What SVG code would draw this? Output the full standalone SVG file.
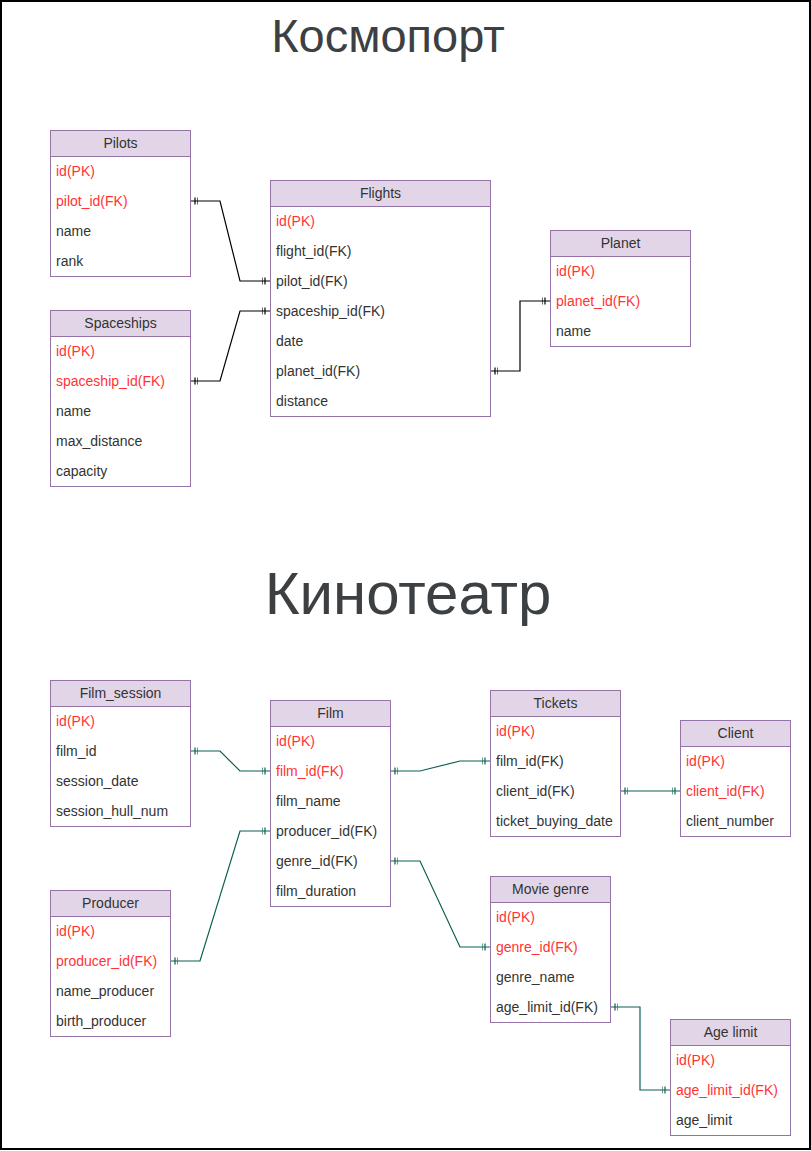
<svg xmlns="http://www.w3.org/2000/svg" width="811" height="1151" viewBox="0 0 811 1151">
<style>
.hd{fill:#e1d5e7;stroke:#9673a6;stroke-width:1}
.bd{fill:#ffffff;stroke:#9673a6;stroke-width:1}
text{font-family:"Liberation Sans",Arial,sans-serif;font-size:14px;fill:#333333}
.t{text-anchor:middle}
.r{fill:#ff3333}
.title{fill:#3c4043;text-anchor:middle}
.cb{fill:none;stroke:#000000;stroke-width:1.2;marker-start:url(#mb);marker-end:url(#mb)}
.ct{fill:none;stroke:#0b5f52;stroke-width:1.2;marker-start:url(#mt);marker-end:url(#mt)}
</style>
<defs>
<marker id="mb" markerUnits="userSpaceOnUse" viewBox="0 -5 10 10" markerWidth="10" markerHeight="10" refX="8" refY="0" orient="auto-start-reverse"><path d="M0,-3.5V3.5M3,-3.5V3.5" stroke="#000000" stroke-width="1.2" fill="none"/></marker>
<marker id="mt" markerUnits="userSpaceOnUse" viewBox="0 -5 10 10" markerWidth="10" markerHeight="10" refX="8" refY="0" orient="auto-start-reverse"><path d="M0,-3.5V3.5M3,-3.5V3.5" stroke="#0b5f52" stroke-width="1.2" fill="none"/></marker>
</defs>
<rect x="0" y="0" width="811" height="1151" fill="#ffffff"/>
<rect x="1" y="1" width="809" height="1148" fill="none" stroke="#000000" stroke-width="2"/>
<text class="title" x="388" y="52" style="font-size:47px">Космопорт</text>
<text class="title" x="408" y="614" style="font-size:60px">Кинотеатр</text>

<g id="connectors">
<path class="cb" d="M190,201H220L240,281H270"/>
<path class="cb" d="M190,381H220L240,311H270"/>
<path class="cb" d="M490,371H520V301H550"/>
<path class="ct" d="M190,751H220L240,771H270"/>
<path class="ct" d="M390,771H420L460,761H490"/>
<path class="ct" d="M620,791H680"/>
<path class="ct" d="M170,961H200L240,831H270"/>
<path class="ct" d="M390,861H420L460,947H490"/>
<path class="ct" d="M610,1007H640V1090H670"/>
</g>

<g id="pilots">
<rect class="bd" x="50.5" y="130.5" width="140" height="146"/>
<rect class="hd" x="50.5" y="130.5" width="140" height="26"/>
<text class="t" x="120.5" y="148">Pilots</text>
<text class="r" x="56" y="176">id(PK)</text>
<text class="r" x="56" y="206">pilot_id(FK)</text>
<text x="56" y="236">name</text>
<text x="56" y="266">rank</text>
</g>

<g id="spaceships">
<rect class="bd" x="50.5" y="310.5" width="140" height="176"/>
<rect class="hd" x="50.5" y="310.5" width="140" height="26"/>
<text class="t" x="120.5" y="328">Spaceships</text>
<text class="r" x="56" y="356">id(PK)</text>
<text class="r" x="56" y="386">spaceship_id(FK)</text>
<text x="56" y="416">name</text>
<text x="56" y="446">max_distance</text>
<text x="56" y="476">capacity</text>
</g>

<g id="flights">
<rect class="bd" x="270.5" y="180.5" width="220" height="236"/>
<rect class="hd" x="270.5" y="180.5" width="220" height="26"/>
<text class="t" x="380.5" y="198">Flights</text>
<text class="r" x="276" y="226">id(PK)</text>
<text x="276" y="256">flight_id(FK)</text>
<text x="276" y="286">pilot_id(FK)</text>
<text x="276" y="316">spaceship_id(FK)</text>
<text x="276" y="346">date</text>
<text x="276" y="376">planet_id(FK)</text>
<text x="276" y="406">distance</text>
</g>

<g id="planet">
<rect class="bd" x="550.5" y="230.5" width="140" height="116"/>
<rect class="hd" x="550.5" y="230.5" width="140" height="26"/>
<text class="t" x="620.5" y="248">Planet</text>
<text class="r" x="556" y="276">id(PK)</text>
<text class="r" x="556" y="306">planet_id(FK)</text>
<text x="556" y="336">name</text>
</g>

<g id="film_session">
<rect class="bd" x="50.5" y="680.5" width="140" height="146"/>
<rect class="hd" x="50.5" y="680.5" width="140" height="26"/>
<text class="t" x="120.5" y="698">Film_session</text>
<text class="r" x="56" y="726">id(PK)</text>
<text x="56" y="756">film_id</text>
<text x="56" y="786">session_date</text>
<text x="56" y="816">session_hull_num</text>
</g>

<g id="film">
<rect class="bd" x="270.5" y="700.5" width="120" height="206"/>
<rect class="hd" x="270.5" y="700.5" width="120" height="26"/>
<text class="t" x="330.5" y="718">Film</text>
<text class="r" x="276" y="746">id(PK)</text>
<text class="r" x="276" y="776">film_id(FK)</text>
<text x="276" y="806">film_name</text>
<text x="276" y="836">producer_id(FK)</text>
<text x="276" y="866">genre_id(FK)</text>
<text x="276" y="896">film_duration</text>
</g>

<g id="tickets">
<rect class="bd" x="490.5" y="690.5" width="130" height="146"/>
<rect class="hd" x="490.5" y="690.5" width="130" height="26"/>
<text class="t" x="555.5" y="708">Tickets</text>
<text class="r" x="496" y="736">id(PK)</text>
<text x="496" y="766">film_id(FK)</text>
<text x="496" y="796">client_id(FK)</text>
<text x="496" y="826">ticket_buying_date</text>
</g>

<g id="client">
<rect class="bd" x="680.5" y="720.5" width="110" height="116"/>
<rect class="hd" x="680.5" y="720.5" width="110" height="26"/>
<text class="t" x="735.5" y="738">Client</text>
<text class="r" x="686" y="766">id(PK)</text>
<text class="r" x="686" y="796">client_id(FK)</text>
<text x="686" y="826">client_number</text>
</g>

<g id="producer">
<rect class="bd" x="50.5" y="890.5" width="120" height="146"/>
<rect class="hd" x="50.5" y="890.5" width="120" height="26"/>
<text class="t" x="110.5" y="908">Producer</text>
<text class="r" x="56" y="936">id(PK)</text>
<text class="r" x="56" y="966">producer_id(FK)</text>
<text x="56" y="996">name_producer</text>
<text x="56" y="1026">birth_producer</text>
</g>

<g id="movie_genre">
<rect class="bd" x="490.5" y="876.5" width="120" height="146"/>
<rect class="hd" x="490.5" y="876.5" width="120" height="26"/>
<text class="t" x="550.5" y="894">Movie genre</text>
<text class="r" x="496" y="922">id(PK)</text>
<text class="r" x="496" y="952">genre_id(FK)</text>
<text x="496" y="982">genre_name</text>
<text x="496" y="1012">age_limit_id(FK)</text>
</g>

<g id="age_limit">
<rect class="bd" x="670.5" y="1019.5" width="120" height="116"/>
<rect class="hd" x="670.5" y="1019.5" width="120" height="26"/>
<text class="t" x="730.5" y="1037">Age limit</text>
<text class="r" x="676" y="1065">id(PK)</text>
<text class="r" x="676" y="1095">age_limit_id(FK)</text>
<text x="676" y="1125">age_limit</text>
</g>
</svg>
